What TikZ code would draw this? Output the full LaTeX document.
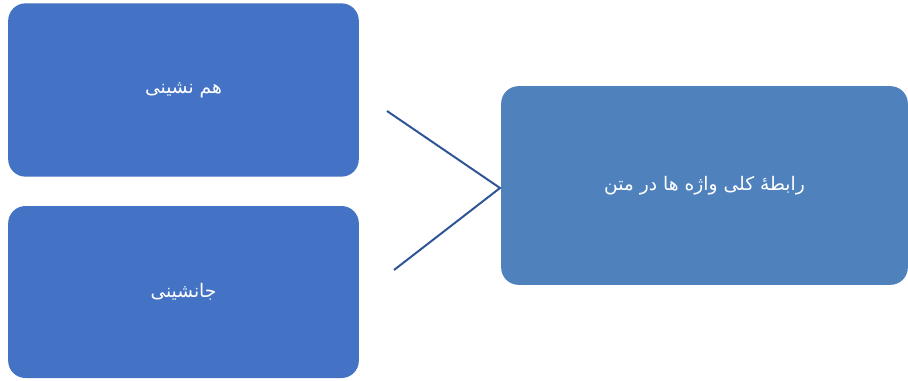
\documentclass[tikz,border=0pt]{standalone}
\usepackage{fontspec}
\newfontfamily\arabicfont[Script=Arabic]{DejaVu Sans}
\TeXXeTstate=1
\usetikzlibrary{positioning}
\definecolor{boxblue}{HTML}{4472C4}
\definecolor{mainblue}{HTML}{4F81BD}
\definecolor{lineblue}{HTML}{2F5597}

\begin{document}
\begin{tikzpicture}[x=0.75pt,y=-0.75pt]
\tikzset{
  itembox/.style={fill=boxblue,rounded corners=13pt,text=white,minimum width=263pt,font=\arabicfont\fontsize{14}{16}\selectfont,inner sep=0pt},
  mainbox/.style={itembox,fill=mainblue,minimum width=305pt,minimum height=149pt}
}
\useasboundingbox (0,0) rectangle (908,380);
\node [itembox,minimum height=130pt] (hamneshini) at (183.5,90) {\beginR هم نشینی\endR};
\node [itembox,minimum height=129pt] (janeshini) at (183.5,292) {\beginR جانشینی\endR};
\node [mainbox] (rabete) at (704.5,185.5) {\beginR رابطهٔ کلی واژه ها در متن\endR};
\coordinate (upper) at (387,111);
\coordinate (tip) at (500,188);
\coordinate (lower) at (394,270);
\draw [lineblue,line width=1.5pt] (upper) -- (tip) -- (lower);
\end{tikzpicture}
\end{document}
